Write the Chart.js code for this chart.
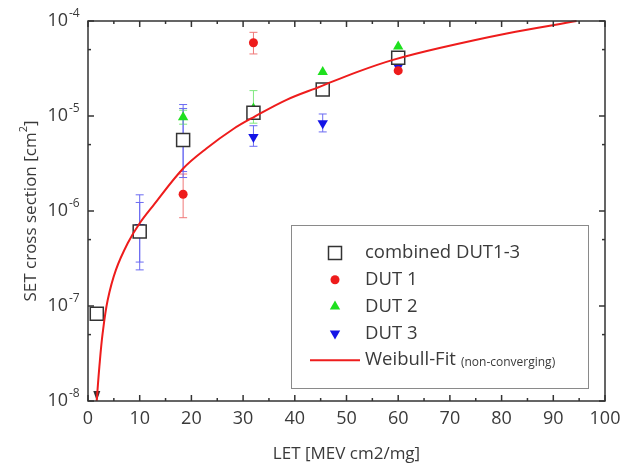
<!DOCTYPE html>
<html>
<head>
<meta charset="utf-8">
<script src="https://cdn.jsdelivr.net/npm/chart.js@4.4.1/dist/chart.umd.min.js"></script>
<style>
  body { margin: 0; background: #fff; }
</style>
</head>
<body>
<canvas id="set" width="626" height="464"></canvas>
<script>
// combined DUT1-3
const combinedLet = [1.7, 10, 18.4, 32, 45.4, 60];
const combinedSigma = [8.3e-8, 6.1e-7, 5.6e-6, 1.08e-5, 1.9e-5, 4.1e-5];
const combinedLow = [1e-8, 2.9e-7, 2.6e-6, null, null, null];
const combinedHigh = [null, 1.23e-6, 1.2e-5, null, null, null];

// DUT 1
const dut1Let = [18.4, 32, 60];
const dut1Sigma = [1.5e-6, 5.9e-5, 3.0e-5];
const dut1Low = [8.5e-7, 4.5e-5, null];
const dut1High = [2.45e-6, 7.6e-5, null];

// DUT 2
const dut2Let = [18.4, 32, 45.4, 60];
const dut2Sigma = [9.7e-6, 1.2e-5, 2.9e-5, 5.4e-5];
const dut2Low = [8.2e-6, 8.4e-6, null, null];
const dut2High = [1.15e-5, 1.85e-5, null, null];

// DUT 3
const dut3Let = [10, 18.4, 32, 45.4, 60];
const dut3Sigma = [6.8e-7, 5.5e-6, 6.0e-6, 8.4e-6, 3.3e-5];
const dut3Low = [2.4e-7, 2.25e-6, 4.8e-6, 6.8e-6, null];
const dut3High = [1.48e-6, 1.32e-5, 7.9e-6, 1.05e-5, null];

// Weibull fit
const fitLet = [1.68, 2.2, 2.84, 3.8, 5.4, 7.7, 9.9, 12.5, 18.4, 22.9, 28.1, 32, 38.4, 44.9, 52, 59, 68, 81, 94.5];
const fitSigma = [1e-8, 2.3e-8, 5.2e-8, 1.15e-7, 2.4e-7, 4.6e-7, 7.3e-7, 1.12e-6, 2.8e-6, 4.55e-6, 7.3e-6, 9.7e-6, 1.48e-5, 2.04e-5, 2.9e-5, 3.9e-5, 5.2e-5, 7.4e-5, 1e-4];

// ticks
const xMajor = [0, 10, 20, 30, 40, 50, 60, 70, 80, 90, 100];
const xMinor = [5, 15, 25, 35, 45, 55, 65, 75, 85, 95];
const yMajor = [1e-8, 1e-7, 1e-6, 1e-5, 1e-4];
const yMinor = [5e-8, 5e-7, 5e-6, 5e-5];

const FONT = '"Open Sans", "Noto Sans", sans-serif';
const TXT = '#3a3a3a';

function pts(xs, ys) {
  return xs.map((x, i) => ({ x: x, y: ys[i] }));
}

const errorSets = [
  { xs: combinedLet, lo: combinedLow, hi: combinedHigh, color: ['#333', '#6b6bf2', '#6b6bf2'] },
  { xs: dut1Let, lo: dut1Low, hi: dut1High, color: '#f07878' },
  { xs: dut2Let, lo: dut2Low, hi: dut2High, color: '#7fe87f' },
  { xs: dut3Let, lo: dut3Low, hi: dut3High, color: '#6b6bf2' }
];

const errorBars = {
  id: 'errorBars',
  beforeDatasetsDraw(chart) {
    const ctx = chart.ctx, xs = chart.scales.x, ys = chart.scales.y;
    ctx.save();
    ctx.lineWidth = 1;
    errorSets.forEach(set => {
      set.xs.forEach((lx, i) => {
        const lo = set.lo[i], hi = set.hi[i];
        if (lo == null && hi == null) return;
        const col = Array.isArray(set.color) ? set.color[i] : set.color;
        ctx.strokeStyle = col;
        ctx.fillStyle = col;
        const px = xs.getPixelForValue(lx);
        const y0 = ys.getPixelForValue(lo != null ? lo : hi);
        const y1 = ys.getPixelForValue(hi != null ? hi : lo);
        ctx.beginPath();
        ctx.moveTo(px, y0);
        ctx.lineTo(px, y1);
        ctx.stroke();
        if (lo != null && lo <= ys.min) {
          // upper limit arrow
          ctx.beginPath();
          ctx.moveTo(px, y0);
          ctx.lineTo(px - 3.5, y0 - 10);
          ctx.lineTo(px + 3.5, y0 - 10);
          ctx.closePath();
          ctx.fill();
        } else if (lo != null) {
          ctx.beginPath();
          ctx.moveTo(px - 4, y0); ctx.lineTo(px + 4, y0);
          ctx.stroke();
        }
        if (hi != null) {
          ctx.beginPath();
          ctx.moveTo(px - 4, y1); ctx.lineTo(px + 4, y1);
          ctx.stroke();
        }
      });
    });
    ctx.restore();
  }
};

function marker(ctx, style, x, y) {
  ctx.beginPath();
  if (style === 'rect') {
    ctx.rect(x - 6.5, y - 6.5, 13, 13);
    ctx.fillStyle = '#fff'; ctx.fill();
    ctx.strokeStyle = '#333'; ctx.lineWidth = 1.5; ctx.stroke();
  } else if (style === 'circle') {
    ctx.arc(x, y, 4.5, 0, Math.PI * 2);
    ctx.fillStyle = '#ee1c1c'; ctx.fill();
  } else if (style === 'up') {
    ctx.moveTo(x, y - 6); ctx.lineTo(x + 5.2, y + 3); ctx.lineTo(x - 5.2, y + 3);
    ctx.closePath();
    ctx.fillStyle = '#1ee01e'; ctx.fill();
  } else if (style === 'down') {
    ctx.moveTo(x, y + 6); ctx.lineTo(x + 5.2, y - 3); ctx.lineTo(x - 5.2, y - 3);
    ctx.closePath();
    ctx.fillStyle = '#1414e6'; ctx.fill();
  }
}

const frame = {
  id: 'frame',
  afterDraw(chart) {
    const ctx = chart.ctx, a = chart.chartArea;
    const xs = chart.scales.x, ys = chart.scales.y;
    ctx.save();
    ctx.strokeStyle = '#333';
    ctx.lineWidth = 1.5;
    ctx.strokeRect(a.left, a.top, a.right - a.left, a.bottom - a.top);

    // inner ticks on all sides
    const tick = (x0, y0, x1, y1) => { ctx.beginPath(); ctx.moveTo(x0, y0); ctx.lineTo(x1, y1); ctx.stroke(); };
    xMajor.forEach(v => { const p = xs.getPixelForValue(v); tick(p, a.bottom, p, a.bottom - 6); tick(p, a.top, p, a.top + 6); });
    xMinor.forEach(v => { const p = xs.getPixelForValue(v); tick(p, a.bottom, p, a.bottom - 3); tick(p, a.top, p, a.top + 3); });
    yMajor.forEach(v => { const p = ys.getPixelForValue(v); tick(a.left, p, a.left + 6, p); tick(a.right, p, a.right - 6, p); });
    yMinor.forEach(v => { const p = ys.getPixelForValue(v); tick(a.left, p, a.left + 3, p); tick(a.right, p, a.right - 3, p); });

    // tick labels
    ctx.fillStyle = TXT;
    ctx.font = '18px ' + FONT;
    ctx.textAlign = 'center';
    ctx.textBaseline = 'middle';
    xMajor.forEach(v => ctx.fillText(String(v), xs.getPixelForValue(v), a.bottom + 18));
    yMajor.forEach(v => {
      const p = ys.getPixelForValue(v);
      const e = Math.round(Math.log10(v));
      ctx.font = '18px ' + FONT;
      ctx.textAlign = 'right';
      ctx.fillText('10', 68, p);
      ctx.font = '12px ' + FONT;
      ctx.textAlign = 'left';
      ctx.fillText(String(e), 69, p - 7);
    });

    // axis titles
    ctx.font = '17px ' + FONT;
    ctx.textAlign = 'center';
    ctx.fillText('LET [MEV cm2/mg]', (a.left + a.right) / 2, 454);

    ctx.save();
    ctx.translate(31, (a.top + a.bottom) / 2);
    ctx.rotate(-Math.PI / 2);
    const t1 = 'SET cross section [cm', t2 = '2', t3 = ']';
    ctx.font = '17px ' + FONT;
    const w1 = ctx.measureText(t1).width, w3 = ctx.measureText(t3).width;
    ctx.font = '11px ' + FONT;
    const w2 = ctx.measureText(t2).width;
    let sx = -(w1 + w2 + w3) / 2;
    ctx.textAlign = 'left';
    ctx.font = '17px ' + FONT;
    ctx.fillText(t1, sx, 0); sx += w1;
    ctx.font = '11px ' + FONT;
    ctx.fillText(t2, sx, -7); sx += w2;
    ctx.font = '17px ' + FONT;
    ctx.fillText(t3, sx, 0);
    ctx.restore();

    // legend
    ctx.fillStyle = '#fff';
    ctx.fillRect(291, 225, 297, 163);
    ctx.strokeStyle = '#8a8a8a';
    ctx.lineWidth = 1;
    ctx.strokeRect(291.5, 225.5, 297, 163);
    const rows = [
      ['rect', 'combined DUT1-3'],
      ['circle', 'DUT 1'],
      ['up', 'DUT 2'],
      ['down', 'DUT 3'],
      ['line', 'Weibull-Fit']
    ];
    rows.forEach((r, i) => {
      const y = 253 + i * 26.8;
      if (r[0] === 'line') {
        ctx.strokeStyle = '#ee1c1c';
        ctx.lineWidth = 2;
        ctx.beginPath(); ctx.moveTo(310, y); ctx.lineTo(360, y); ctx.stroke();
      } else {
        marker(ctx, r[0], 335, y);
      }
      ctx.fillStyle = TXT;
      ctx.font = '18.5px ' + FONT;
      ctx.textAlign = 'left';
      ctx.fillText(r[1], 365, y);
      if (r[0] === 'line') {
        const w = ctx.measureText(r[1]).width;
        ctx.font = '12px ' + FONT;
        ctx.fillText('(non-converging)', 365 + w + 5, y + 2);
      }
    });
    ctx.restore();
  }
};

const hideAxis = {
  display: true,
  grid: { display: false },
  border: { display: false },
  ticks: { display: false },
  afterFit(s) { s.width = 0; s.height = 0; }
};

new Chart(document.getElementById('set'), {
  type: 'scatter',
  data: {
    datasets: [
      {
        label: 'Weibull-Fit',
        type: 'line',
        data: pts(fitLet, fitSigma),
        borderColor: '#ee1c1c',
        borderWidth: 2,
        pointRadius: 0,
        tension: 0.35,
        fill: false
      },
      {
        label: 'combined DUT1-3',
        data: pts(combinedLet, combinedSigma),
        pointStyle: 'rect',
        pointRadius: 9.2,
        backgroundColor: '#fff',
        borderColor: '#333',
        borderWidth: 1.5
      },
      {
        label: 'DUT 1',
        data: pts(dut1Let, dut1Sigma),
        pointStyle: 'circle',
        pointRadius: 4.5,
        backgroundColor: '#ee1c1c',
        borderWidth: 0
      },
      {
        label: 'DUT 2',
        data: pts(dut2Let, dut2Sigma),
        pointStyle: 'triangle',
        pointRadius: 6,
        backgroundColor: '#1ee01e',
        borderWidth: 0
      },
      {
        label: 'DUT 3',
        data: pts(dut3Let, dut3Sigma),
        pointStyle: 'triangle',
        pointRotation: 180,
        pointRadius: 6,
        backgroundColor: '#1414e6',
        borderWidth: 0
      }
    ]
  },
  options: {
    responsive: false,
    animation: false,
    clip: false,
    layout: { padding: { left: 88, right: 21, top: 21, bottom: 63 } },
    plugins: { legend: { display: false }, tooltip: { enabled: false } },
    scales: {
      x: Object.assign({ type: 'linear', min: 0, max: 100 }, hideAxis),
      y: Object.assign({ type: 'logarithmic', min: 1e-8, max: 1e-4 }, hideAxis)
    }
  },
  plugins: [errorBars, frame]
});
</script>
</body>
</html>
